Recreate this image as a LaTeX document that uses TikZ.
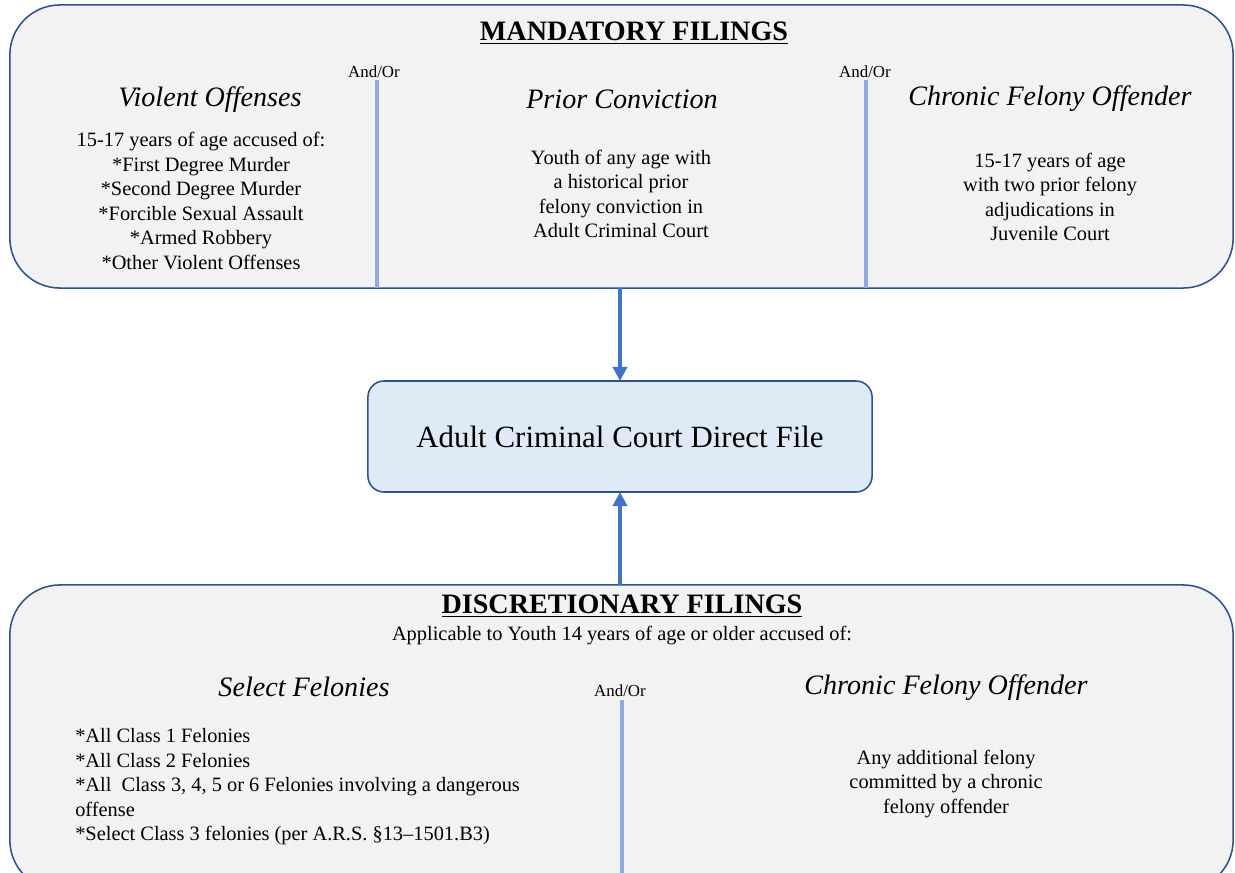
\documentclass[tikz,border=0pt]{standalone}
\usepackage{fontspec}
\setmainfont{Liberation Serif}[ItalicFont={Liberation Serif Italic},BoldFont={Liberation Serif Bold}]
\usetikzlibrary{arrows.meta}

\definecolor{boxline}{HTML}{2F528F}
\definecolor{boxfill}{HTML}{F2F2F2}
\definecolor{midfill}{HTML}{DEEBF7}
\definecolor{arrowblue}{HTML}{4472C4}
\definecolor{splitblue}{HTML}{8FAADC}

\tikzset{
  panel/.style={draw=boxline,fill=boxfill,line width=1.1pt,rounded corners=1.25cm,
    inner sep=0pt,outer sep=0pt},
  title/.style={font=\fontsize{20}{24}\selectfont\bfseries},
  head/.style={font=\fontsize{20}{24}\selectfont\itshape},
  body/.style={font=\fontsize{14.5}{17.4}\selectfont,align=center,inner sep=0pt},
  andor/.style={font=\fontsize{12}{14}\selectfont,inner sep=0pt},
  divider/.style={draw=splitblue,line width=2.5pt},
  feed/.style={draw=arrowblue,line width=2.8pt,-{Triangle[length=10pt,width=10pt]}}
}

\begin{document}
\begin{tikzpicture}[x=0.025cm,y=-0.025cm]
\useasboundingbox (0,0) rectangle (1235,873);

% upper panel
\node[panel,minimum width=30.575cm,minimum height=7.075cm] (mand) at (621.5,146.5) {};
\draw[divider] (377,80) -- (377,288);
\draw[divider] (866,80) -- (866,288);
\node[andor] (ao1) at (374,72) {And/Or};
\node[andor] (ao2) at (865,72) {And/Or};
\node[title] (mtitle) at (634,33) {\underline{MANDATORY FILINGS}};
\node[head] (violent) at (210,100) {Violent Offenses};
\node[head] (prior) at (622,99) {Prior Conviction};
\node[head] (chronic) at (1050,99) {Chronic Felony Offender};
\node[body] (violenttxt) at (201,201) {15-17 years of age accused of:\\*First Degree Murder\\*Second Degree Murder\\*Forcible Sexual Assault\\*Armed Robbery\\*Other Violent Offenses};
\node[body] (priortxt) at (621,194) {Youth of any age with\\a historical prior\\felony conviction in\\Adult Criminal Court};
\node[body] (chronictxt) at (1050,197) {15-17 years of age\\with two prior felony\\adjudications in\\Juvenile Court};

% middle box
\node[draw=boxline,fill=midfill,line width=1.1pt,rounded corners=0.4cm,
  minimum width=12.6cm,minimum height=2.775cm,inner sep=0pt,outer sep=0pt,
  font=\fontsize{22}{26}\selectfont] (direct) at (620,436.5) {Adult Criminal Court Direct File};

% lower panel
\node[panel,minimum width=30.575cm,minimum height=7.625cm] (disc) at (621.5,737.5) {};
\draw[divider] (622,700) -- (622,873);
\node[andor] (ao3) at (620,691) {And/Or};
\node[title] (dtitle) at (622,606) {\underline{DISCRETIONARY FILINGS}};
\node[body] (dsub) at (622,636) {Applicable to Youth 14 years of age or older accused of:};
\node[head] (select) at (304,687) {Select Felonies};
\node[head] (chronic2) at (946,688) {Chronic Felony Offender};
\node[body,align=left,anchor=west] (selecttxt) at (75,787) {*All Class 1 Felonies\\*All Class 2 Felonies\\*All~ Class 3, 4, 5 or 6 Felonies involving a dangerous\\offense\\*Select Class 3 felonies (per A.R.S. §13\textendash1501.B3)};
\node[body] (chronic2txt) at (946,784) {Any additional felony\\committed by a chronic\\felony offender};

% arrows
\draw[feed] (mand.south -| direct.north) -- (direct.north);
\draw[feed] (disc.north -| direct.south) -- (direct.south);
\end{tikzpicture}
\end{document}
